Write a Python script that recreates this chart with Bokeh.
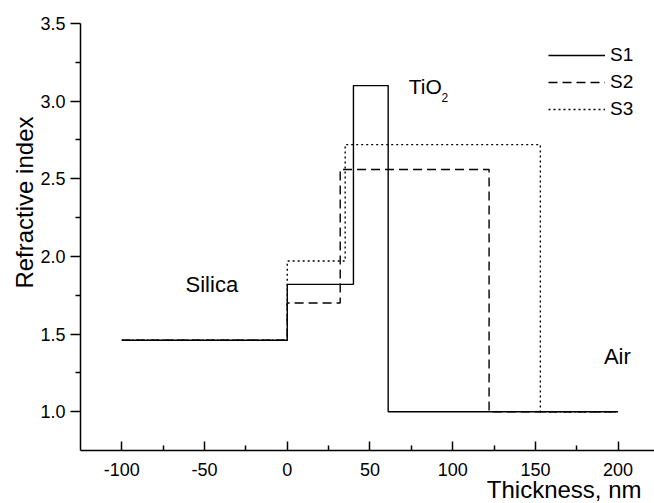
from bokeh.plotting import figure
from bokeh.models import Range1d, FixedTicker, Label, Legend, LegendItem, Title
from bokeh.embed import file_html
from bokeh.resources import INLINE

# Step profiles: layer boundaries (nm) and refractive index of each layer
s1_x = [-100, 0, 40, 61, 200]
s1_n = [1.46, 1.82, 3.10, 1.00, 1.00]

s2_x = [-100, 0, 32, 122, 200]
s2_n = [1.46, 1.70, 2.56, 1.00, 1.00]

s3_x = [-100, 0, 35, 153, 200]
s3_n = [1.46, 1.97, 2.72, 1.00, 1.00]

series_names = ["S1", "S2", "S3"]

x_ticks = [-100, -50, 0, 50, 100, 150, 200]
x_tick_labels = ["-100", "-50", "0", "50", "100", "150", "200"]
x_minor = [-75, -25, 25, 75, 125, 175]
y_ticks = [1.0, 1.5, 2.0, 2.5, 3.0, 3.5]
y_tick_labels = ["1.0", "1.5", "2.0", "2.5", "3.0", "3.5"]
y_minor = [1.25, 1.75, 2.25, 2.75, 3.25]

FONT = "Liberation Sans"

p = figure(width=654, height=503, output_backend="svg", toolbar_location=None,
           x_range=Range1d(-125, 222), y_range=Range1d(0.75, 3.5),
           min_border_left=80, min_border_right=0, min_border_top=23,
           min_border_bottom=53)
p.outline_line_color = None
p.grid.visible = False
p.background_fill_color = "white"
p.border_fill_color = "white"

lw = 1.4
r1 = p.step(s1_x, s1_n, mode="after", line_color="black", line_width=lw)
r2 = p.step(s2_x, s2_n, mode="after", line_color="black", line_width=lw, line_dash="9 5")
r3 = p.step(s3_x, s3_n, mode="after", line_color="black", line_width=lw, line_dash="2 3")

legend = Legend(items=[LegendItem(label=series_names[0], renderers=[r1]),
                       LegendItem(label=series_names[1], renderers=[r2]),
                       LegendItem(label=series_names[2], renderers=[r3])],
                location=(468, 330), orientation="vertical",
                glyph_width=57, glyph_height=20, label_height=20, spacing=5,
                padding=0, margin=0, label_standoff=5,
                border_line_color=None, background_fill_alpha=0,
                label_text_font=FONT, label_text_font_size="19px",
                label_text_color="black")
p.add_layout(legend, "center")

# axes
xa = p.xaxis[0]
xa.ticker = FixedTicker(ticks=x_ticks, minor_ticks=x_minor)
xa.major_label_overrides = {t: l for t, l in zip(x_ticks, x_tick_labels)}
xa.major_tick_in = 9
xa.major_tick_out = 0
xa.minor_tick_in = 5
xa.minor_tick_out = 0
xa.major_label_standoff = 12

ya = p.yaxis[0]
ya.ticker = FixedTicker(ticks=y_ticks, minor_ticks=y_minor)
ya.major_label_overrides = {t: l for t, l in zip(y_ticks, y_tick_labels)}
ya.major_tick_in = 0
ya.major_tick_out = 10
ya.minor_tick_in = 0
ya.minor_tick_out = 5
ya.major_label_standoff = 5

for ax in (xa, ya):
    ax.axis_line_color = "black"
    ax.axis_line_width = 1.5
    ax.major_tick_line_color = "black"
    ax.major_tick_line_width = 1.5
    ax.minor_tick_line_color = "black"
    ax.minor_tick_line_width = 1.5
    ax.major_label_text_font = FONT
    ax.major_label_text_font_size = "18px"
    ax.major_label_text_color = "black"

# axis titles
p.add_layout(Title(text="Thickness, nm", align="right", offset=13, standoff=-10,
                   text_font=FONT, text_font_size="24px", text_font_style="normal",
                   text_color="black"), "below")
p.add_layout(Title(text="Refractive index", align="right", offset=93, standoff=0,
                   text_font=FONT, text_font_size="24px", text_font_style="normal",
                   text_color="black"), "left")

# annotations
def lab(x, y, text, size):
    p.add_layout(Label(x=x, y=y, text=text, text_font=FONT, text_font_size=size,
                       text_color="black", text_align="left",
                       text_baseline="alphabetic"))

lab(-61.5, 1.82, "Silica", "22px")
lab(73.4, 3.093, "TiO", "21px")
lab(93.3, 3.025, "2", "12px")
lab(191.4, 1.354, "Air", "22px")

open("out.html", "w").write(file_html(p, INLINE))
